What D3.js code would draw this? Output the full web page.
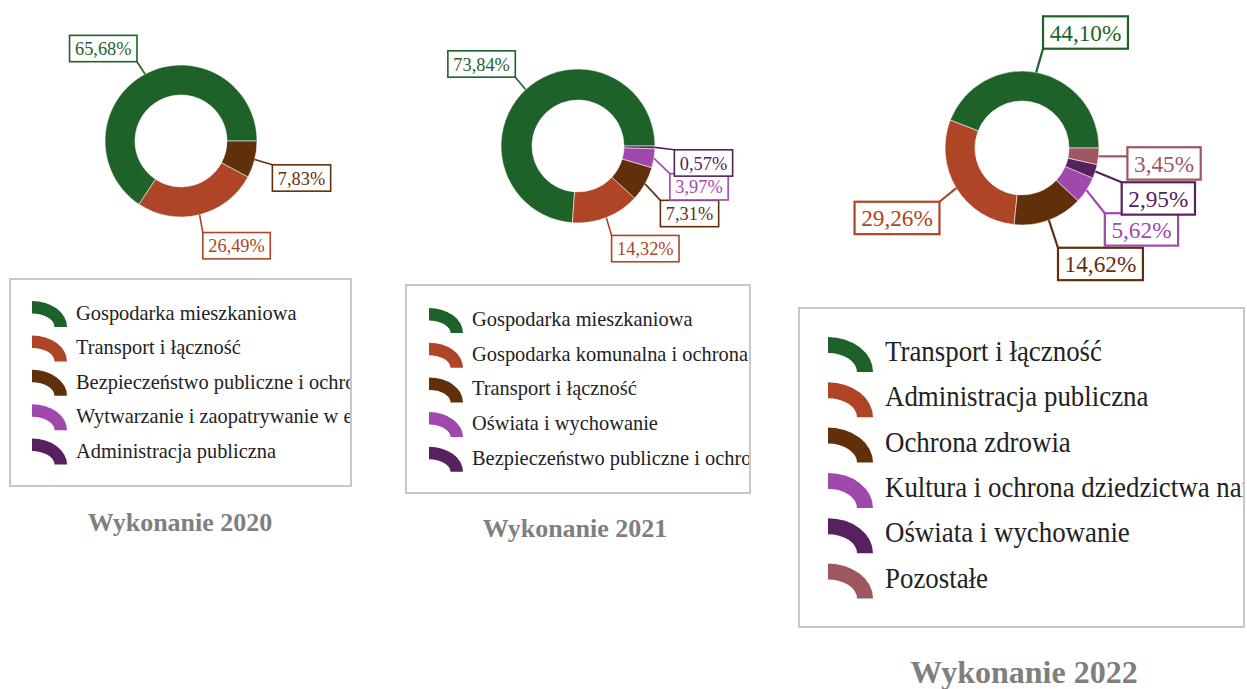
<!DOCTYPE html>
<html><head><meta charset="utf-8">
<script src="https://cdn.jsdelivr.net/npm/d3@7"></script>
<style>
html,body{margin:0;padding:0;background:#fff;}
svg{display:block;}
</style></head>
<body>
<svg id="chart" width="1247" height="689"></svg>
<script>
// ---------- data ----------
const cats2020 = ["Gospodarka mieszkaniowa", "Transport i łączność", "Bezpieczeństwo publiczne i ochrona", "Wytwarzanie i zaopatrywanie w energię", "Administracja publiczna"];
const vals2020 = [65.68, 26.49, 7.83, 0, 0];

const cats2021 = ["Gospodarka mieszkaniowa", "Gospodarka komunalna i ochrona środowiska", "Transport i łączność", "Oświata i wychowanie", "Bezpieczeństwo publiczne i ochrona"];
const vals2021 = [73.84, 14.32, 7.31, 3.97, 0.57];

const cats2022 = ["Transport i łączność", "Administracja publiczna", "Ochrona zdrowia", "Kultura i ochrona dziedzictwa narodowego", "Oświata i wychowanie", "Pozostałe"];
const vals2022 = [44.10, 29.26, 14.62, 5.62, 2.95, 3.45];

const titles = ["Wykonanie 2020", "Wykonanie 2021", "Wykonanie 2022"];

// ---------- styles / layout ----------
const palette = ["#1f6229", "#ad4526", "#622f0b", "#9f49ad", "#57205f", "#9e5760"];

// label box centre offsets relative to the slice's outer mid-point
const labelOffsets2020 = [[-41.8, -25.5], [37, 31], [46.8, 18.5], null, null];
const labelOffsets2021 = [[-44, -25.6], [39, 31], [44.5, 29.6], [45, 28.5], [48.5, 15.6]];
const labelOffsets2022 = [[49.3, -39.8], [-59.3, 29.8], [51.6, 43.8], [55, 39.3], [63, 27], [65.5, 7.1]];

const panels = [
  {cats: cats2020, vals: vals2020, title: titles[0], offs: labelOffsets2020,
   cx: 181, cy: 141, r: 76, ir: 46, lf: 19.5, lsx: 0.94, lsw: 1.6,
   leg: {x: 10, y: 279, w: 341, h: 207, swX: 32, swW: 35, swH: 26, swT: 12.5, top: 301, step: 34.4, textX: 76, font: 22, sx: 0.928, base: 19},
   tx: 180, ty: 531, tf: 26},
  {cats: cats2021, vals: vals2021, title: titles[1], offs: labelOffsets2021,
   cx: 578, cy: 146, r: 77, ir: 46, lf: 19.5, lsx: 0.94, lsw: 1.6,
   leg: {x: 406, y: 285, w: 344, h: 208, swX: 429, swW: 34, swH: 25, swT: 12.5, top: 308, step: 34.7, textX: 472, font: 22, sx: 0.928, base: 18},
   tx: 575, ty: 537, tf: 26},
  {cats: cats2022, vals: vals2022, title: titles[2], offs: labelOffsets2022,
   cx: 1022, cy: 148, r: 77, ir: 47, lf: 24, lsx: 0.97, lsw: 2.2,
   leg: {x: 799, y: 308, w: 445, h: 319, swX: 828, swW: 45, swH: 35, swT: 16, top: 337, step: 45.3, textX: 885, font: 29, sx: 0.927, base: 24},
   tx: 1024, ty: 683, tf: 32}
];

const FONT = "'Liberation Serif','Times New Roman',serif";
const fmt = v => d3.format(".2f")(v).replace(".", ",") + "%";
const svg = d3.select("#chart");
svg.append("rect").attr("width", 1247).attr("height", 689).attr("fill", "#fff");
const defs = svg.append("defs");
const color = d3.scaleOrdinal().domain(d3.range(6)).range(palette);

panels.forEach((p, pi) => {
  const g = svg.append("g");
  const pie = d3.pie().sort(null).value(d => d)
    .startAngle(Math.PI / 2).endAngle(Math.PI / 2 - 2 * Math.PI);
  const arcs = pie(p.vals);
  const arc = d3.arc().innerRadius(p.ir).outerRadius(p.r);
  const edge = d3.arc().innerRadius(p.r).outerRadius(p.r);

  const donut = g.append("g").attr("transform", `translate(${p.cx},${p.cy})`);
  donut.selectAll("path").data(arcs.filter(d => d.value > 0)).join("path")
    .attr("d", arc)
    .attr("fill", d => color(d.index))
    .attr("stroke", "rgba(255,255,255,0.55)")
    .attr("stroke-width", 1);

  // labels
  const lab = g.append("g");
  arcs.forEach((d, i) => {
    if (d.value <= 0 || !p.offs[i]) return;
    const c = edge.centroid(d);
    const ax = p.cx + c[0], ay = p.cy + c[1];
    const bx = ax + p.offs[i][0], by = ay + p.offs[i][1];
    const t = lab.append("text")
      .attr("font-family", FONT)
      .attr("font-size", p.lf)
      .attr("fill", color(i))
      .attr("text-anchor", "middle")
      .attr("transform", `translate(${bx},${by + p.lf * 0.34}) scale(${p.lsx},1)`)
      .text(fmt(d.value));
    const tw = t.node().getBBox().width * p.lsx;
    const w = tw + p.lf * 0.55, h = p.lf * 1.35;
    const x0 = bx - w / 2, y0 = by - h / 2;
    const ex = Math.max(x0, Math.min(x0 + w, ax));
    const ey = Math.max(y0, Math.min(y0 + h, ay));
    lab.insert("line", "text")
      .attr("x1", ax).attr("y1", ay).attr("x2", ex).attr("y2", ey)
      .attr("stroke", color(i)).attr("stroke-width", p.lsw);
    lab.insert("rect", "text")
      .attr("x", x0).attr("y", y0).attr("width", w).attr("height", h)
      .attr("fill", "#fff").attr("stroke", color(i)).attr("stroke-width", p.lsw);
  });

  // legend
  const L = p.leg;
  const clipId = "clip" + pi;
  defs.append("clipPath").attr("id", clipId).append("rect")
    .attr("x", L.x + 1).attr("y", L.y + 1).attr("width", L.w - 2).attr("height", L.h - 2);
  g.append("rect").attr("x", L.x).attr("y", L.y).attr("width", L.w).attr("height", L.h)
    .attr("fill", "#fff").attr("stroke", "#c8c8c8").attr("stroke-width", 2);
  const lg = g.append("g").attr("clip-path", `url(#${clipId})`);
  p.cats.forEach((name, i) => {
    const top = L.top + i * L.step;
    const rx = L.swW, ry = L.swH, t = L.swT;
    const path = `M${L.swX},${top} A${rx},${ry} 0 0 1 ${L.swX + rx},${top + ry} L${L.swX + rx - t},${top + ry} A${rx - t},${ry - t} 0 0 0 ${L.swX},${top + t} Z`;
    lg.append("path").attr("d", path).attr("fill", color(i));
    lg.append("text")
      .attr("transform", `translate(${L.textX},${top + L.base}) scale(${L.sx},1)`)
      .attr("font-family", FONT)
      .attr("font-size", L.font)
      .attr("fill", "#222")
      .text(name);
  });

  // title
  g.append("text").attr("x", p.tx).attr("y", p.ty)
    .attr("text-anchor", "middle")
    .attr("font-family", FONT)
    .attr("font-weight", "bold")
    .attr("font-size", p.tf)
    .attr("fill", "#7f7f7f")
    .text(p.title);
});
</script>
</body></html>
